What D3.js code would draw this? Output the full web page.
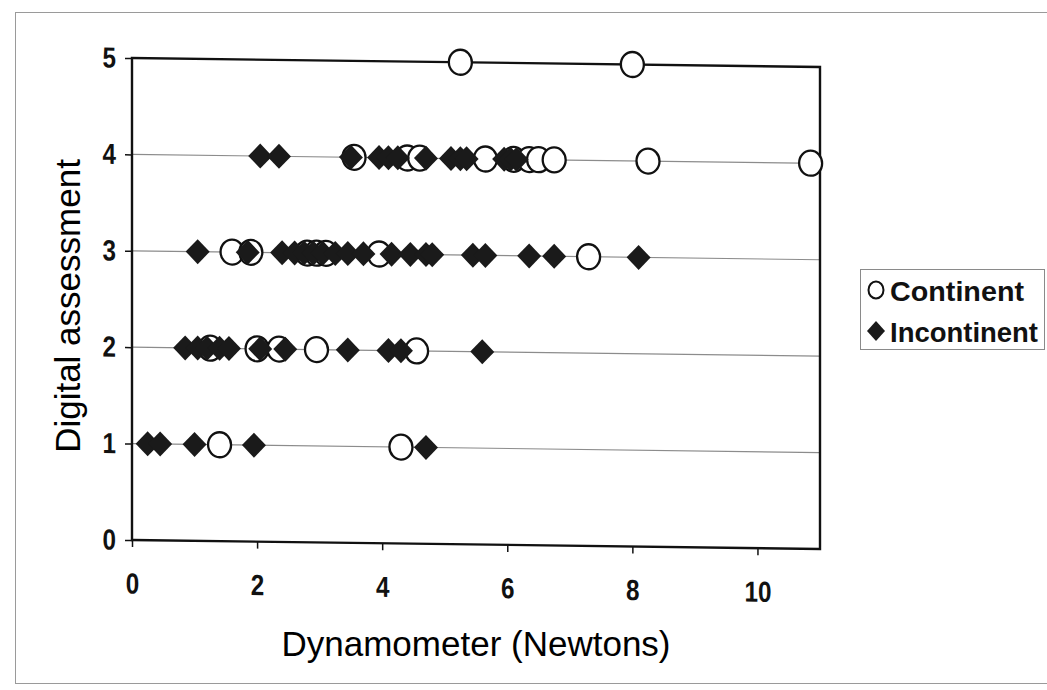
<!DOCTYPE html>
<html>
<head>
<meta charset="utf-8">
<script src="https://cdn.jsdelivr.net/npm/d3@7"></script>
<style>
  html, body { margin: 0; padding: 0; background: #fff; }
  svg { display: block; }
  text { font-family: "Liberation Sans", Arial, sans-serif; fill: #111; }
</style>
</head>
<body>
<svg id="chart" width="1047" height="690"></svg>
<script>
// Dynamometer force (N) against digital assessment grade, by continence group
const continentForce = [
  5.25, 8.0,
  3.55, 4.4, 4.6, 5.65, 6.1, 6.35, 6.5, 6.75, 8.25, 10.85,
  1.6, 1.9, 2.8, 2.95, 3.1, 3.95, 7.3,
  1.25, 2.0, 2.35, 2.95, 4.55,
  1.4, 4.3
];
const continentGrade = [
  5, 5,
  4, 4, 4, 4, 4, 4, 4, 4, 4, 4,
  3, 3, 3, 3, 3, 3, 3,
  2, 2, 2, 2, 2,
  1, 1
];
const incontinentForce = [
  2.05, 2.35, 3.5, 3.95, 4.1, 4.25, 4.7, 5.1, 5.25, 5.35, 5.95, 6.05, 6.15,
  1.05, 1.85, 2.4, 2.6, 2.75, 2.9, 3.05, 3.25, 3.45, 3.7, 4.15, 4.45, 4.7, 4.8, 5.45, 5.65, 6.35, 6.75, 8.1,
  0.85, 1.05, 1.2, 1.4, 1.55, 2.05, 2.45, 3.45, 4.1, 4.3, 5.6,
  0.25, 0.45, 1.0, 1.95, 4.7
];
const incontinentGrade = [
  4, 4, 4, 4, 4, 4, 4, 4, 4, 4, 4, 4, 4,
  3, 3, 3, 3, 3, 3, 3, 3, 3, 3, 3, 3, 3, 3, 3, 3, 3, 3, 3,
  2, 2, 2, 2, 2, 2, 2, 2, 2, 2, 2,
  1, 1, 1, 1, 1
];
const xTicks = [0, 2, 4, 6, 8, 10];
const yTicks = [0, 1, 2, 3, 4, 5];
const gridLevels = [1, 2, 3, 4];
const seriesNames = ["Continent", "Incontinent"];
const xTitle = "Dynamometer (Newtons)";
const yTitle = "Digital assessment";

const svg = d3.select("#chart");

// outer chart frame
svg.append("rect")
  .attr("x", 15.5).attr("y", 12.5)
  .attr("width", 1045).attr("height", 671)
  .attr("fill", "none").attr("stroke", "#9a9a9a").attr("stroke-width", 1);

const plotLeft = 132, plotRight = 820, plotTop = 58, plotBottom = 540;
const x = d3.scaleLinear().domain([0, 11]).range([plotLeft, plotRight]);
const y = d3.scaleLinear().domain([0, 5]).range([plotBottom, plotTop]);

// plot group, slightly sheared as on the printed sheet
const shear = 0.013;
const plot = svg.append("g")
  .attr("transform", `translate(0,${-shear * plotLeft}) skewY(${Math.atan(shear) * 180 / Math.PI})`);

// horizontal gridlines
plot.append("g").selectAll("line").data(gridLevels).join("line")
  .attr("x1", plotLeft).attr("x2", plotRight)
  .attr("y1", d => y(d)).attr("y2", d => y(d))
  .attr("stroke", "#8c8c8c").attr("stroke-width", 1.2);

// tall, narrow numerals for the tick labels
function styleTickText(sel) {
  sel.style("font-size", "29px").style("font-weight", "bold")
    .attr("fill", "#111")
    .attr("lengthAdjust", "spacingAndGlyphs")
    .attr("textLength", function () { return 13.5 * this.textContent.length; });
}

// y axis
const yAxis = plot.append("g")
  .attr("transform", `translate(${plotLeft},0)`)
  .call(d3.axisLeft(y).tickValues(yTicks).tickSize(7).tickPadding(9).tickFormat(d3.format("d")));
yAxis.select(".domain").remove();
yAxis.attr("font-family", "Liberation Sans, Arial, sans-serif");
yAxis.selectAll(".tick line").attr("stroke", "#111").attr("stroke-width", 1.5);
yAxis.selectAll(".tick text").call(styleTickText);

// x axis
const xAxis = plot.append("g")
  .attr("transform", `translate(0,${plotBottom})`)
  .call(d3.axisBottom(x).tickValues(xTicks).tickSize(7).tickPadding(26).tickFormat(d3.format("d")));
xAxis.select(".domain").remove();
xAxis.attr("font-family", "Liberation Sans, Arial, sans-serif");
xAxis.selectAll(".tick line").attr("stroke", "#111").attr("stroke-width", 1.5);
xAxis.selectAll(".tick text").call(styleTickText);

// plot border
plot.append("rect")
  .attr("x", plotLeft).attr("y", plotTop)
  .attr("width", plotRight - plotLeft).attr("height", plotBottom - plotTop)
  .attr("fill", "none").attr("stroke", "#111").attr("stroke-width", 2.4);

// continent: open circles
plot.append("g").selectAll("ellipse")
  .data(continentForce.map((f, i) => [f, continentGrade[i]]))
  .join("ellipse")
  .attr("cx", d => x(d[0])).attr("cy", d => y(d[1]))
  .attr("rx", 11.5).attr("ry", 12.5)
  .attr("fill", "#fff").attr("stroke", "#111").attr("stroke-width", 2.3);

// incontinent: filled diamonds
const diamond = (cx, cy) => `M${cx},${cy - 12.5}L${cx + 12},${cy}L${cx},${cy + 12.5}L${cx - 12},${cy}Z`;
plot.append("g").selectAll("path")
  .data(incontinentForce.map((f, i) => [f, incontinentGrade[i]]))
  .join("path")
  .attr("d", d => diamond(x(d[0]), y(d[1])))
  .attr("fill", "#1a1a1a");

// axis titles
svg.append("text")
  .attr("x", 476).attr("y", 656)
  .attr("text-anchor", "middle")
  .attr("font-size", 35)
  .style("fill", "#000")
  .text(xTitle);

svg.append("text")
  .attr("transform", "translate(80,306) rotate(-90)")
  .attr("text-anchor", "middle")
  .attr("font-size", 35)
  .style("fill", "#000")
  .text(yTitle);

// legend
const legend = svg.append("g");
legend.append("rect")
  .attr("x", 860.5).attr("y", 269.5)
  .attr("width", 184).attr("height", 80)
  .attr("fill", "#fff").attr("stroke", "#8a8a8a").attr("stroke-width", 1);
legend.append("ellipse")
  .attr("cx", 876).attr("cy", 290)
  .attr("rx", 7.5).attr("ry", 8.5)
  .attr("fill", "#fff").attr("stroke", "#111").attr("stroke-width", 2);
legend.append("path")
  .attr("d", `M876,321L885,331L876,341L867,331Z`)
  .attr("fill", "#1a1a1a");
legend.selectAll("text.lab").data(seriesNames).join("text")
  .attr("class", "lab")
  .attr("x", 890).attr("y", (d, i) => 301 + i * 41)
  .attr("font-size", 27)
  .attr("font-weight", "bold")
  .attr("lengthAdjust", "spacingAndGlyphs")
  .attr("textLength", (d, i) => i === 0 ? 134 : 148)
  .text(d => d);
</script>
</body>
</html>
